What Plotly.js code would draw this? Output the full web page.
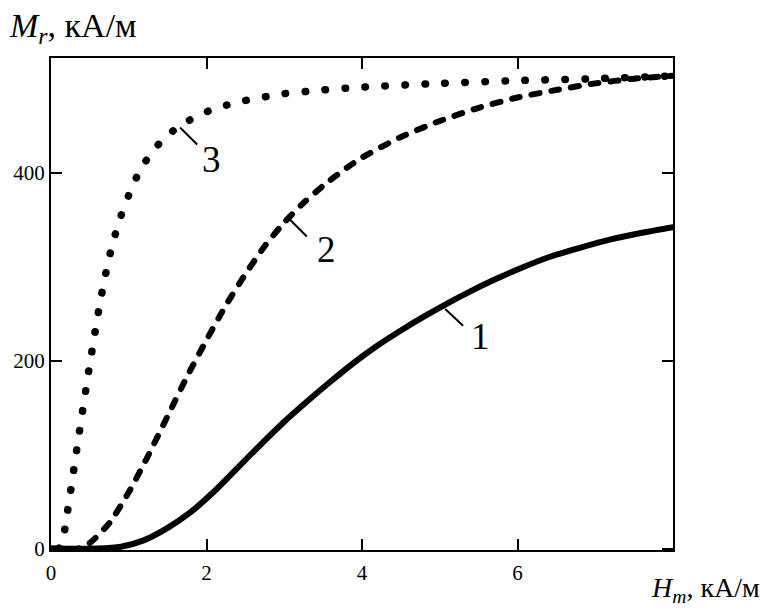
<!DOCTYPE html>
<html>
<head>
<meta charset="utf-8">
<script src="https://cdn.plot.ly/plotly-3.0.1.min.js"></script>
<style>html,body{margin:0;padding:0;background:#fff;}#chart{width:764px;height:609px;}</style>
</head>
<body>
<div id="chart"></div>
<script>
// Curve 1 (solid)
const h1 = [0, 0.6, 0.9, 1.2, 1.5, 1.8, 2.1, 2.4, 2.7, 3.0, 3.3, 3.6, 3.9, 4.2, 4.5, 4.8, 5.1, 5.4, 5.7, 6.0, 6.4, 6.8, 7.2, 7.6, 8.0];
const m1 = [0, 0, 2, 9, 22, 39, 61, 86, 111, 135, 157, 178, 198, 216, 232, 247, 261, 274, 286, 297, 310, 320, 329, 336, 342];
// Curve 2 (dashed)
const h2 = [0, 0.35, 0.5, 0.75, 1.0, 1.25, 1.5, 1.75, 2.0, 2.25, 2.5, 2.75, 3.0, 3.25, 3.5, 3.75, 4.0, 4.5, 5.0, 5.5, 6.0, 6.5, 7.0, 7.5, 8.0];
const m2 = [0, 0, 6, 27, 60, 99, 141, 183, 222, 259, 292, 322, 347, 368, 386, 402, 416, 438, 455, 469, 480, 488, 495, 500, 503];
// Curve 3 (dotted)
const h3 = [0.1, 0.15, 0.2, 0.25, 0.3, 0.35, 0.4, 0.45, 0.5, 0.55, 0.6, 0.65, 0.7, 0.75, 0.8, 0.9, 1.0, 1.1, 1.2, 1.35, 1.5, 1.7, 1.9, 2.1, 2.4, 2.7, 3.0, 3.5, 4.0, 5.0, 6.0, 7.0, 8.0];
const m3 = [0, 8, 33, 60, 88, 116, 143, 170, 197, 222, 247, 270, 291, 310, 327, 354, 376, 395, 410, 427, 440, 452, 461, 468, 475, 480, 484, 488, 491, 495, 498, 500, 503];

const xTicks = [0, 2, 4, 6];
const xTickText = ['0', '2', '4', '6'];
const yTicks = [0, 200, 400];
const yTickText = ['0', '200', '400'];
const curveLabels = ['1', '2', '3'];

const serif = 'Liberation Serif, Times New Roman, serif';

const traces = [
  {x: h1, y: m1, mode: 'lines', line: {color: '#000', width: 6, shape: 'spline', smoothing: 0.6}, hoverinfo: 'skip'},
  {x: h2, y: m2, mode: 'lines', line: {color: '#000', width: 6, dash: '8px,12px', shape: 'spline', smoothing: 0.6}, hoverinfo: 'skip'},
  {x: h3, y: m3, mode: 'lines', line: {color: '#000', width: 7.5, dash: '0.5px,19.5px', shape: 'spline', smoothing: 0.6}, hoverinfo: 'skip'}
];

const axisCommon = {
  showline: true, linecolor: '#000', linewidth: 2, mirror: 'ticks',
  ticks: 'inside', ticklen: 11, tickwidth: 2, tickcolor: '#000',
  showgrid: false, zeroline: false,
  tickfont: {family: serif, size: 21, color: '#000'}
};

const layout = {
  width: 764, height: 609,
  margin: {l: 51, r: 91, t: 58, b: 59},
  paper_bgcolor: '#fff', plot_bgcolor: '#fff',
  showlegend: false,
  xaxis: Object.assign({}, axisCommon, {range: [0, 8], tickvals: xTicks, ticktext: xTickText, ticklabelstandoff: 3}),
  yaxis: Object.assign({}, axisCommon, {range: [-1.5, 522], tickvals: yTicks, ticktext: yTickText}),
  annotations: [
    {xref: 'paper', yref: 'paper', x: -0.071, y: 1.061, xanchor: 'left', yanchor: 'middle', showarrow: false,
     text: '<i>M<sub>r</sub></i>, кА/м', font: {family: serif, size: 34, color: '#000'}},
    {xref: 'paper', yref: 'paper', x: 1.143, y: -0.081, xanchor: 'right', yanchor: 'middle', showarrow: false,
     text: '<i>H<sub>m</sub></i>, кА/м', font: {family: serif, size: 28, color: '#000'}},
    {x: 5.52, y: 226, xref: 'x', yref: 'y', showarrow: false, text: curveLabels[0], font: {family: serif, size: 37, color: '#000'}},
    {x: 3.54, y: 318, xref: 'x', yref: 'y', showarrow: false, text: curveLabels[1], font: {family: serif, size: 37, color: '#000'}},
    {x: 2.06, y: 414, xref: 'x', yref: 'y', showarrow: false, text: curveLabels[2], font: {family: serif, size: 37, color: '#000'}}
  ],
  shapes: [
    {type: 'line', xref: 'x', yref: 'y', x0: 5.07, y0: 255, x1: 5.30, y1: 237, line: {color: '#000', width: 2}},
    {type: 'line', xref: 'x', yref: 'y', x0: 3.05, y0: 352, x1: 3.29, y1: 332, line: {color: '#000', width: 2}},
    {type: 'line', xref: 'x', yref: 'y', x0: 1.66, y0: 448, x1: 1.88, y1: 430, line: {color: '#000', width: 2}}
  ]
};

function roundCaps() {
  document.querySelectorAll('#chart .scatterlayer path.js-line').forEach(p => {
    p.style.strokeLinecap = 'round';
    p.style.strokeLinejoin = 'round';
  });
}

const gd = document.getElementById('chart');
Plotly.newPlot(gd, traces, layout, {staticPlot: true, displayModeBar: false}).then(() => {
  roundCaps();
  gd.on('plotly_afterplot', roundCaps);
});
</script>
</body>
</html>
